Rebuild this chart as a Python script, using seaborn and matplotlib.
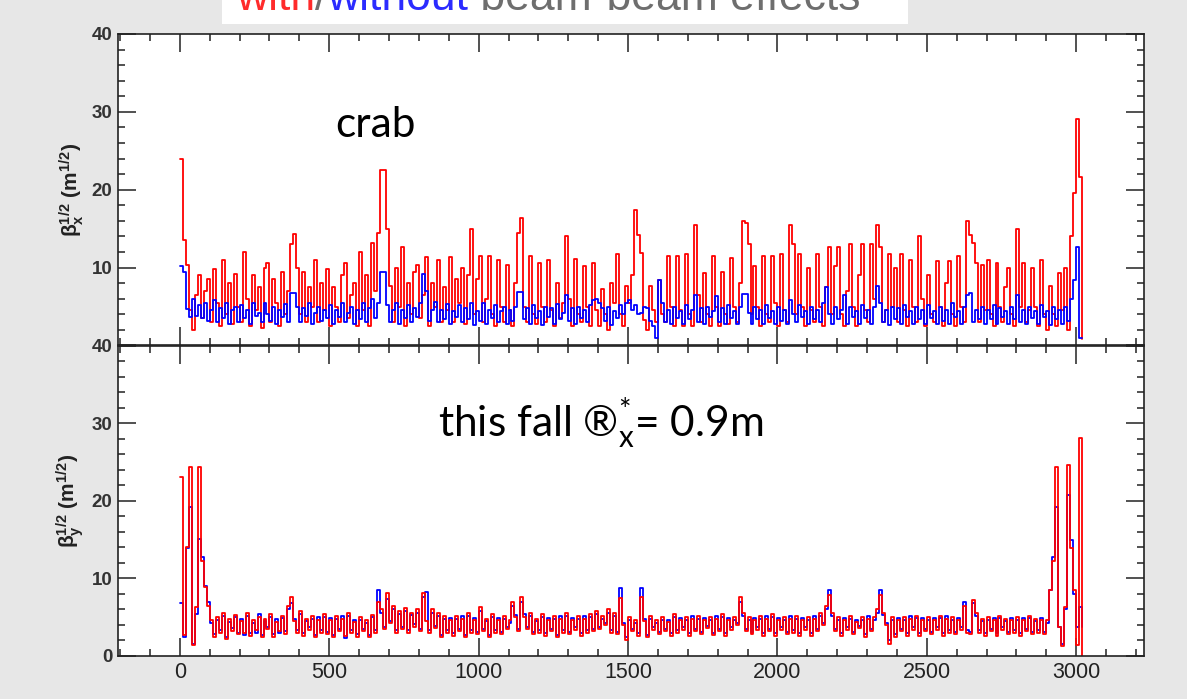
import numpy as np
import matplotlib
matplotlib.use("Agg")
import matplotlib.pyplot as plt
import seaborn as sns
from matplotlib.patches import Rectangle
from matplotlib.ticker import MultipleLocator, FuncFormatter

# ring position of each sample (m), 10 m bins
ring_pos = np.arange(303) * 10.0

# sqrt(beta_x) with beam-beam (red) / without (blue)
betax_with = [
    24.0, 13.5, 10.3, 4.5, 2.0, 6.5, 9.0, 3.5, 7.0, 8.5,
    3.0, 9.8, 5.5, 2.5, 11.0, 4.0, 8.0, 2.8, 9.2, 5.0,
    3.0, 12.0, 6.0, 2.5, 9.0, 4.5, 7.5, 2.2, 10.0, 10.6,
    3.0, 8.5, 5.5, 2.5, 9.5, 4.0, 7.0, 13.0, 14.3, 10.0,
    4.0, 9.5, 3.0, 7.5, 5.0, 11.0, 3.0, 8.0, 4.5, 9.8,
    2.5, 7.5, 5.0, 3.0, 9.0, 10.6, 3.5, 6.5, 8.0, 2.5,
    12.0, 4.5, 9.0, 2.5, 13.2, 7.0, 14.4, 22.5, 22.5, 15.0,
    7.6, 3.0, 10.0, 5.0, 12.7, 2.5, 8.0, 4.0, 9.5, 10.4,
    3.5, 6.5, 11.4, 2.5, 8.0, 5.0, 11.0, 3.0, 7.5, 4.5,
    11.4, 3.0, 8.5, 5.5, 10.0, 2.8, 9.0, 14.9, 4.0, 8.5,
    11.5, 3.0, 6.0, 11.5, 4.0, 2.5, 11.0, 5.0, 3.0, 10.4,
    4.5, 2.5, 8.0, 14.5, 16.4, 5.0, 3.0, 11.5, 4.0, 2.8,
    10.6, 5.0, 3.0, 11.0, 4.5, 2.5, 8.0, 3.5, 5.5, 14.1,
    6.0, 2.5, 11.1, 4.0, 3.0, 10.2, 5.0, 2.5, 10.6, 4.5,
    2.5, 7.2, 4.0, 2.0, 8.0, 5.5, 11.7, 4.0, 2.5, 7.6,
    5.5, 9.0, 17.4, 14.2, 11.9, 3.3, 2.0, 7.6, 4.5, 3.0,
    8.4, 4.0, 3.0, 11.5, 5.0, 2.5, 11.5, 4.5, 2.5, 11.7,
    4.0, 2.5, 15.5, 6.5, 3.0, 9.3, 4.0, 2.5, 11.5, 5.0,
    2.5, 9.5, 4.0, 2.8, 11.3, 5.0, 3.0, 8.0, 16.0, 15.7,
    13.0, 4.0, 10.2, 5.0, 2.5, 11.5, 4.0, 3.0, 11.5, 5.5,
    2.5, 11.7, 4.5, 3.0, 15.5, 13.0, 4.0, 11.7, 5.0, 2.5,
    10.0, 4.5, 3.0, 11.7, 5.0, 2.5, 7.5, 12.7, 4.0, 10.2,
    12.7, 4.0, 2.5, 7.0, 13.0, 5.0, 2.5, 9.0, 13.0, 4.5,
    3.0, 13.0, 6.0, 15.5, 12.7, 3.0, 4.5, 11.7, 5.0, 10.0,
    3.0, 11.7, 4.5, 2.5, 11.0, 5.0, 3.0, 14.0, 6.0, 2.5,
    9.1, 4.0, 3.0, 10.8, 5.0, 2.5, 8.0, 10.8, 4.0, 2.5,
    11.5, 5.0, 3.0, 16.0, 14.2, 13.2, 10.6, 3.0, 10.4, 4.5,
    11.0, 4.0, 2.5, 10.6, 5.0, 3.0, 7.5, 10.0, 4.0, 2.5,
    14.9, 5.0, 10.6, 3.0, 4.5, 10.0, 5.0, 2.5, 11.0, 4.0,
    2.0, 7.6, 4.0, 2.5, 9.3, 4.5, 10.0, 2.0, 14.1, 19.6,
    29.1, 21.7, 0.8,
]
betax_without = [
    10.2, 9.5, 4.7, 3.6, 6.0, 3.8, 5.2, 3.5, 5.5, 3.2,
    4.5, 5.8, 3.0, 4.8, 3.5, 5.5, 2.8, 4.5, 5.0, 3.0,
    5.2, 3.5, 4.6, 2.8, 5.4, 3.8, 4.2, 3.0, 5.5, 4.0,
    3.2, 5.0, 2.8, 4.5, 3.6, 5.3, 3.0, 6.8, 6.8, 5.0,
    3.0, 4.8, 3.8, 5.5, 2.8, 4.2, 5.0, 3.2, 4.6, 3.5,
    5.2, 2.8, 4.5, 3.6, 5.4, 3.0, 4.2, 5.0, 2.8, 4.6,
    3.4, 5.5, 3.0, 4.8, 6.0, 3.5, 5.5, 9.5, 9.5, 5.2,
    3.0, 4.5, 5.4, 2.8, 4.6, 3.5, 5.2, 3.0, 4.8, 3.6,
    5.5, 9.2, 7.0, 3.2, 4.5, 5.6, 3.0, 4.6, 3.4, 5.3,
    2.8, 4.4, 3.6, 5.2, 3.0, 4.8, 3.4, 5.5, 2.6, 4.4,
    3.2, 5.5, 2.8, 4.6, 3.5, 5.2, 3.0, 4.4, 5.0, 2.8,
    4.5, 3.2, 5.0, 6.9, 6.9, 3.4, 4.8, 2.8, 5.2, 3.5,
    4.4, 2.6, 5.0, 3.6, 4.8, 2.8, 5.3, 3.4, 4.2, 6.5,
    3.2, 4.8, 2.7, 5.0, 3.5, 4.6, 3.0, 5.2, 5.8, 6.0,
    5.5, 4.8, 3.2, 5.0, 2.6, 4.4, 3.5, 5.2, 4.0, 5.5,
    5.8, 4.6, 5.2, 4.0, 4.2, 5.0, 4.8, 3.2, 2.5, 1.0,
    8.4, 5.5, 3.0, 4.6, 2.8, 5.0, 3.5, 4.4, 2.7, 5.2,
    3.4, 4.6, 6.5, 3.0, 4.8, 2.8, 5.0, 3.6, 4.4, 6.3,
    3.0, 4.8, 2.7, 5.2, 3.5, 4.4, 2.8, 5.0, 6.6, 6.6,
    4.2, 2.8, 5.0, 3.4, 4.6, 2.7, 5.2, 3.5, 4.4, 2.8,
    5.0, 3.2, 4.6, 2.7, 5.8, 4.0, 3.0, 5.2, 3.6, 4.4,
    2.8, 5.0, 3.4, 4.6, 3.0, 5.4, 7.5, 4.0, 2.8, 5.0,
    3.4, 4.6, 6.5, 2.8, 5.0, 3.6, 4.4, 2.7, 5.2, 3.5,
    4.6, 2.8, 5.0, 7.6, 5.5, 3.0, 4.6, 2.6, 5.0, 3.4,
    4.8, 2.8, 5.2, 3.6, 4.4, 2.7, 5.0, 3.4, 4.6, 2.8,
    5.2, 3.5, 4.4, 2.8, 5.0, 3.2, 4.6, 2.7, 5.4, 3.6,
    4.4, 2.8, 5.0, 6.5, 6.8, 3.0, 4.6, 3.4, 5.0, 2.7,
    4.6, 3.4, 5.2, 2.8, 4.8, 3.6, 4.4, 2.7, 5.0, 3.4,
    6.5, 3.0, 4.6, 2.8, 5.0, 3.5, 4.4, 2.7, 5.2, 3.6,
    4.4, 2.6, 5.0, 3.4, 4.6, 2.7, 5.0, 3.2, 6.0, 8.4,
    12.7, 1.0, 1.0,
]

# sqrt(beta_y) with beam-beam (red) / without (blue)
betay_with = [
    23.1, 2.7, 14.0, 24.4, 1.4, 6.3, 24.4, 12.3, 8.9, 6.5,
    4.6, 2.5, 5.0, 3.0, 5.5, 2.2, 4.8, 3.2, 5.3, 2.8,
    4.5, 3.0, 5.6, 2.6, 4.6, 3.3, 5.0, 2.4, 4.8, 3.5,
    5.4, 2.5, 4.4, 3.2, 5.2, 2.8, 6.5, 7.6, 4.5, 3.0,
    5.8, 2.6, 4.8, 3.4, 5.2, 2.4, 4.6, 3.0, 5.4, 2.8,
    4.6, 2.4, 5.2, 3.2, 4.8, 2.6, 5.5, 3.0, 4.4, 2.5,
    5.0, 3.2, 4.6, 2.4, 5.3, 3.0, 7.0, 6.0, 3.5, 8.1,
    4.2, 6.5, 3.0, 5.8, 3.5, 6.2, 3.0, 5.6, 3.8, 6.0,
    3.2, 8.1, 4.5, 3.0, 6.0, 3.6, 5.5, 2.4, 5.2, 3.0,
    4.6, 2.6, 5.2, 3.2, 4.8, 2.4, 5.5, 3.0, 4.6, 2.8,
    6.3, 3.2, 4.8, 2.4, 5.4, 3.0, 4.6, 2.8, 5.2, 3.5,
    4.6, 7.0, 5.0, 3.2, 7.6, 5.0, 3.5, 5.6, 2.8, 4.8,
    3.0, 5.4, 2.6, 4.6, 3.2, 5.2, 2.4, 4.8, 3.0, 5.6,
    2.8, 4.6, 3.4, 5.2, 2.6, 4.8, 3.0, 5.4, 3.2, 5.8,
    3.5, 5.2, 4.0, 6.0, 3.0, 5.5, 2.8, 7.5, 4.0, 2.0,
    5.0, 3.2, 4.6, 2.6, 7.6, 4.5, 2.4, 5.2, 3.4, 4.6,
    2.8, 5.0, 3.2, 4.4, 2.6, 5.4, 3.0, 4.6, 3.4, 5.0,
    2.6, 4.8, 3.2, 5.2, 2.8, 4.6, 3.6, 5.0, 2.7, 4.8,
    3.2, 5.4, 2.6, 4.6, 3.4, 5.0, 4.0, 7.6, 5.5, 3.2,
    5.0, 2.8, 4.6, 3.4, 5.2, 2.6, 4.8, 3.2, 5.4, 2.6,
    4.6, 3.4, 5.0, 2.8, 4.8, 3.0, 5.2, 2.6, 4.6, 3.4,
    5.0, 2.6, 4.8, 3.2, 5.6, 4.0, 6.5, 7.8, 5.5, 3.2,
    5.0, 2.6, 4.6, 3.4, 5.2, 2.8, 4.4, 3.6, 5.0, 2.5,
    4.8, 3.2, 5.0, 6.0, 7.8, 5.6, 4.0, 1.5, 5.0, 2.5,
    4.6, 3.2, 5.0, 2.6, 4.8, 3.4, 5.2, 2.6, 4.6, 3.2,
    5.0, 2.8, 4.6, 3.4, 5.2, 2.6, 4.8, 3.0, 5.0, 2.8,
    4.6, 3.4, 6.5, 3.0, 2.8, 7.2, 5.5, 3.0, 4.8, 2.6,
    5.0, 3.2, 4.6, 2.6, 5.2, 3.4, 4.8, 2.8, 4.6, 3.0,
    5.0, 2.6, 4.6, 3.2, 5.2, 2.8, 4.8, 3.0, 4.6, 2.8,
    4.6, 8.5, 12.3, 24.4, 3.8, 1.3, 6.3, 24.6, 13.9, 8.5,
    1.4, 28.1, 0.0,
]
betay_without = [
    6.8, 2.5, 13.9, 19.2, 1.5, 5.4, 15.1, 12.8, 9.0, 7.0,
    4.2, 2.8, 4.6, 3.4, 5.2, 2.5, 4.4, 3.6, 5.0, 3.0,
    4.8, 2.7, 5.2, 3.0, 4.3, 3.0, 5.4, 2.7, 4.5, 3.8,
    5.0, 2.8, 4.8, 2.9, 4.9, 3.2, 6.0, 6.8, 4.8, 3.3,
    5.4, 2.9, 4.5, 3.7, 4.8, 2.7, 5.0, 3.3, 5.0, 3.1,
    4.9, 2.7, 4.8, 3.5, 5.1, 2.3, 5.2, 3.3, 4.7, 2.8,
    4.7, 3.5, 4.3, 2.7, 5.0, 3.3, 8.5, 5.6, 3.8, 7.4,
    4.5, 6.0, 3.3, 5.4, 3.8, 5.8, 3.3, 5.3, 4.1, 5.6,
    3.5, 7.6, 8.3, 3.3, 5.6, 3.9, 5.1, 2.7, 4.8, 3.3,
    4.9, 2.9, 4.8, 3.5, 5.1, 2.7, 5.1, 3.3, 4.9, 3.1,
    5.8, 3.5, 4.5, 2.7, 5.0, 3.3, 4.9, 3.1, 4.8, 3.8,
    4.3, 6.5, 5.3, 3.5, 7.0, 5.4, 3.8, 5.2, 3.1, 4.5,
    3.3, 5.0, 2.9, 4.9, 3.5, 4.8, 2.7, 5.1, 3.3, 5.2,
    3.1, 4.9, 3.7, 4.8, 2.9, 5.1, 3.3, 5.0, 3.5, 5.4,
    3.8, 4.8, 4.3, 5.6, 3.3, 5.1, 3.1, 8.7, 4.3, 2.5,
    4.7, 3.5, 4.3, 2.9, 8.7, 4.8, 2.7, 4.8, 3.7, 4.3,
    3.1, 4.7, 3.5, 4.7, 2.9, 5.0, 3.3, 4.9, 3.7, 4.7,
    2.9, 5.1, 3.5, 4.8, 3.1, 4.9, 3.9, 4.7, 3.0, 5.1,
    3.5, 5.0, 2.9, 4.9, 3.7, 4.7, 4.3, 7.0, 5.2, 3.5,
    4.7, 3.1, 4.9, 3.7, 4.8, 2.9, 5.1, 3.5, 5.0, 2.9,
    4.9, 3.7, 4.7, 3.1, 5.1, 3.3, 4.8, 2.9, 4.9, 3.7,
    4.7, 2.9, 5.1, 3.5, 5.2, 4.3, 6.0, 8.5, 5.2, 3.5,
    4.7, 2.9, 4.9, 3.7, 4.8, 3.1, 4.7, 3.9, 4.7, 2.8,
    5.1, 3.5, 4.7, 5.6, 8.5, 5.3, 4.3, 2.0, 4.7, 2.8,
    4.9, 3.5, 4.7, 2.9, 5.1, 3.7, 4.9, 2.9, 4.9, 3.5,
    4.7, 3.1, 4.9, 3.7, 4.9, 2.9, 5.1, 3.3, 4.7, 3.1,
    4.9, 3.7, 7.0, 3.3, 3.1, 6.8, 5.2, 3.3, 4.5, 2.9,
    4.7, 3.5, 4.9, 2.9, 4.9, 3.7, 4.5, 3.1, 4.9, 3.3,
    4.7, 2.9, 4.9, 3.5, 4.9, 3.1, 4.5, 3.3, 4.9, 3.1,
    4.3, 8.5, 12.8, 19.2, 3.8, 1.5, 6.0, 20.8, 14.9, 8.0,
    3.8, 6.3, 3.8,
]

y_ticks = [0, 10, 20, 30, 40]
x_ticks = [0, 500, 1000, 1500, 2000, 2500, 3000]
title_parts = [("with", "#ff2b2b"), ("/", "#6e6e6e"),
               ("without", "#2b2bff"), (" beam-beam effects", "#6e6e6e")]

sns.set_style("white")
plt.rcParams["font.family"] = ["Liberation Sans", "DejaVu Sans"]
plt.rcParams["mathtext.fontset"] = "custom"
plt.rcParams["mathtext.rm"] = "Liberation Sans"
plt.rcParams["mathtext.it"] = "Liberation Sans:italic"
plt.rcParams["mathtext.bf"] = "Liberation Sans:bold"

W, H = 1187, 699
fig = plt.figure(figsize=(W / 100, H / 100), dpi=100, facecolor="#e7e7e7")


def px_box(x0, y0, x1, y1):
    return [x0 / W, 1 - y1 / H, (x1 - x0) / W, (y1 - y0) / H]


ax_top = fig.add_axes(px_box(118, 34, 1144, 345.5))
ax_bot = fig.add_axes(px_box(118, 345.5, 1144, 656))

line_kw = dict(drawstyle="steps-post", estimator=None, sort=False,
               lw=1.3, legend=False)
sns.lineplot(x=ring_pos, y=betax_with, ax=ax_top, color="#ff0000", **line_kw)
sns.lineplot(x=ring_pos, y=betax_without, ax=ax_top, color="#0000ff", **line_kw)
sns.lineplot(x=ring_pos, y=betay_without, ax=ax_bot, color="#0000ff", **line_kw)
sns.lineplot(x=ring_pos, y=betay_with, ax=ax_bot, color="#ff0000", **line_kw)

for ax in (ax_top, ax_bot):
    ax.set_facecolor("white")
    ax.set_xlim(-207, 3227)
    ax.set_ylim(y_ticks[0], y_ticks[-1])
    ax.set_xticks(x_ticks)
    ax.set_yticks(y_ticks)
    ax.xaxis.set_minor_locator(MultipleLocator(100))
    ax.yaxis.set_minor_locator(MultipleLocator(2))
    ax.tick_params(which="both", direction="in", top=True, right=True,
                   bottom=True, left=True, color="#222222", width=1.1)
    ax.tick_params(which="major", length=13)
    ax.tick_params(which="minor", length=5)
    ax.tick_params(axis="y", labelsize=13.5, labelcolor="#333333", pad=4)
    for sp in ax.spines.values():
        sp.set_visible(True)
        sp.set_color("#222222")
        sp.set_linewidth(1.2)
    ax.set_xlabel("")
    ax.yaxis.set_label_coords(-0.031, 0.5)

ax_top.tick_params(labelbottom=False)
ax_top.yaxis.set_major_formatter(
    FuncFormatter(lambda v, p: "" if v == 0 else f"{v:.0f}"))
ax_bot.tick_params(axis="x", labelsize=15.5, labelcolor="#222222", pad=4)
for ax in (ax_top, ax_bot):
    for lab in ax.get_yticklabels():
        lab.set_fontweight("bold")

ax_top.set_ylabel(r"$\mathbf{β_x^{1/2}\ (m^{1/2})}$", fontsize=15,
                  color="#222222")
ax_bot.set_ylabel(r"$\mathbf{β_y^{1/2}\ (m^{1/2})}$", fontsize=15,
                  color="#222222")

fig.text(335 / W, 1 - 137 / H, "crab", fontsize=30.5, family="Lato",
         va="baseline", color="black")
fig.text(438 / W, 1 - 437 / H,
         r"this fall ®$_\mathregular{x}^\mathregular{*}$= 0.9m",
         fontsize=30.5, family="Lato", va="baseline", color="black")

# header box, partly cut by the top edge
fig.patches.append(Rectangle((222 / W, 1 - 24 / H), (908 - 222) / W, 24 / H,
                             transform=fig.transFigure, facecolor="white",
                             edgecolor="none", zorder=0))
renderer = fig.canvas.get_renderer()
x_cur = 236 / W
for txt, col in title_parts:
    t = fig.text(x_cur, 1 - 10 / H, txt, color=col, fontsize=32,
                 va="baseline", ha="left")
    x_cur = t.get_window_extent(renderer).x1 / W

fig.savefig("out.png", dpi=100, facecolor=fig.get_facecolor())
